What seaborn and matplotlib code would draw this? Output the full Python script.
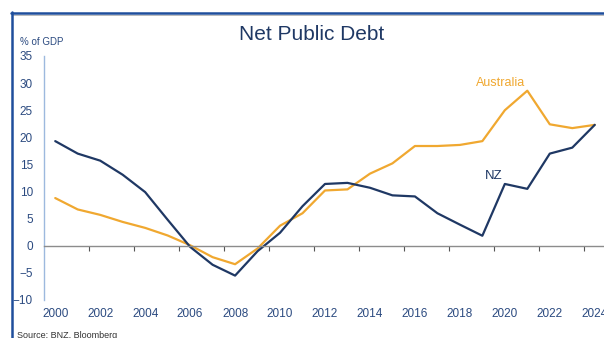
import pandas as pd
import matplotlib.pyplot as plt
import seaborn as sns
from matplotlib.lines import Line2D

# data (% of GDP)
years = list(range(2000, 2025))
nz = [19.3, 17.0, 15.7, 13.1, 9.9, 4.8, -0.2, -3.5, -5.5, -1.0, 2.4, 7.3, 11.4, 11.6,
      10.7, 9.3, 9.1, 6.0, 3.9, 1.85, 11.4, 10.5, 17.0, 18.1, 22.3]
australia = [8.8, 6.7, 5.7, 4.4, 3.3, 1.9, 0.1, -2.1, -3.4, -0.5, 3.7, 6.0, 10.2, 10.4,
             13.3, 15.2, 18.4, 18.4, 18.6, 19.3, 25.0, 28.6, 22.4, 21.7, 22.3]
year_labels = list(range(2000, 2025, 2))
y_ticks = list(range(-10, 40, 5))

navy = '#1F3864'
orange = '#F0A830'
label_col = '#2B4A80'

df = pd.DataFrame({'Year': years * 2,
                   'Debt': nz + australia,
                   'Country': ['NZ'] * len(years) + ['Australia'] * len(years)})

sns.set_style('white')
plt.rcParams['font.family'] = ['Liberation Sans', 'DejaVu Sans']

fig = plt.figure(figsize=(6.04, 3.38), dpi=100)
ax = fig.add_axes([44 / 604, 1 - 300 / 338, 562 / 604, 244 / 338])

sns.lineplot(data=df, x='Year', y='Debt', hue='Country',
             palette={'NZ': navy, 'Australia': orange},
             hue_order=['Australia', 'NZ'], linewidth=1.6, legend=False, ax=ax)

ax.set_xlabel('')
ax.set_ylabel('')

# x axis sits on zero line, marks between categories
ax.spines['bottom'].set_position(('data', 0))
ax.spines['bottom'].set_color('#8C8C8C')
ax.spines['bottom'].set_linewidth(1.0)
ax.spines['left'].set_color('#9DB9DE')
ax.spines['left'].set_linewidth(1.0)
ax.spines['top'].set_visible(False)
ax.spines['right'].set_visible(False)

ax.set_xticks(year_labels)
ax.set_xticklabels([str(y) for y in year_labels])
ax.set_xticks([y + 1.5 for y in year_labels[:-1]], minor=True)
ax.tick_params(axis='x', which='major', length=0, pad=45, labelsize=8.5, labelcolor=label_col)
ax.tick_params(axis='x', which='minor', bottom=True, direction='out', length=3.5,
               width=0.8, color='#555555')
ax.set_yticks(y_ticks)
ax.tick_params(axis='y', length=0, pad=8, labelsize=8.5, labelcolor=label_col)

ax.set_xlim(1999.5, 2024.5)
ax.set_ylim(-10, 35)

ax.text(2019.8, 30.0, 'Australia', color=orange, fontsize=9, ha='center', va='center')
ax.text(2019.5, 12.8, 'NZ', color=navy, fontsize=9.5, ha='center', va='center')

fig.text(312 / 604, 1 - 35 / 338, 'Net Public Debt', color=navy, fontsize=15,
         ha='center', va='center')
fig.text(20 / 604, 1 - 42 / 338, '% of GDP', color=label_col, fontsize=7, ha='left', va='center')
fig.text(17 / 604, 1 - 331 / 338, 'Source: BNZ, Bloomberg', color='#333333', fontsize=6.5,
         ha='left', va='top')

# frame lines of the panel
fig.add_artist(Line2D([11 / 604, 1], [1 - 12.5 / 338] * 2, color='#1F4E9C', linewidth=1.8))
fig.add_artist(Line2D([12 / 604, 1], [1 - 14.5 / 338] * 2, color='#B0B0B0', linewidth=0.6))
fig.add_artist(Line2D([11.5 / 604] * 2, [0, 1 - 12 / 338], color='#1F4E9C', linewidth=1.8))

fig.savefig('out.png', dpi=100)
